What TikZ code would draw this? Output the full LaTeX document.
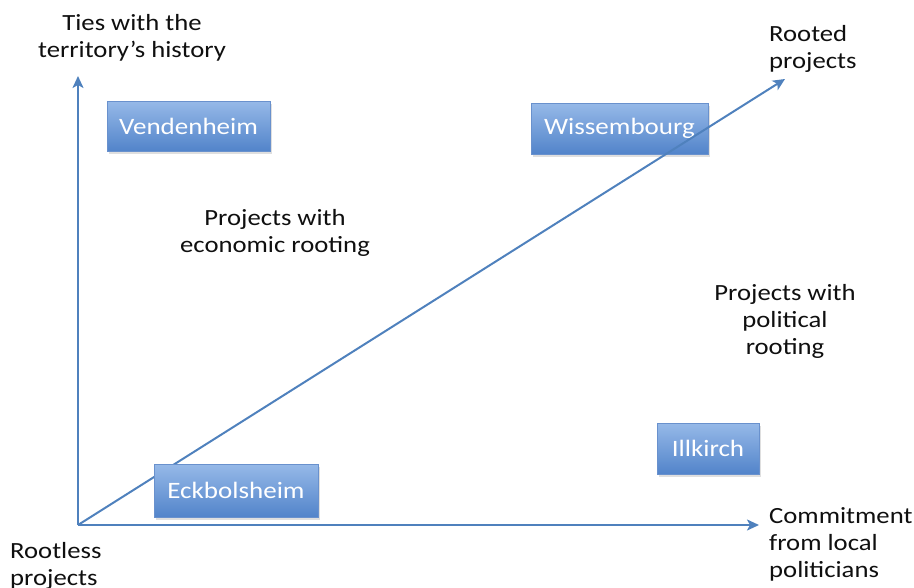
\documentclass[tikz,border=0pt]{standalone}
\usepackage{fontspec}
\setmainfont{Carlito}[FakeStretch=1.15]
\usetikzlibrary{arrows.meta,shadows}
\definecolor{axisblue}{RGB}{79,129,189}
\definecolor{boxtop}{RGB}{150,185,232}
\definecolor{boxbot}{RGB}{82,132,202}
\definecolor{boxedge}{RGB}{105,145,205}
\definecolor{labeltext}{RGB}{15,15,15}
\tikzset{
  axisline/.style={draw=axisblue, line width=2.1pt, -{Stealth[length=12pt,width=11pt,inset=3pt]}},
  diagline/.style={draw=axisblue, line width=2pt, -{Stealth[length=12pt,width=11pt,inset=3pt]}},
  townbox/.style={rectangle, draw=boxedge, line width=0.6pt, top color=boxtop, bottom color=boxbot,
    text=white, font=\fontsize{23.5}{27}\selectfont, inner sep=0pt,
    drop shadow={opacity=0.25, shadow xshift=1.5pt, shadow yshift=-2.5pt}},
  lbl/.style={font=\fontsize{23.2}{27}\selectfont, text=labeltext, inner sep=0pt},
}
\begin{document}
\begin{tikzpicture}[x=1pt,y=-1pt]
\useasboundingbox (0,0) rectangle (914,587);
\coordinate (origin) at (78,525);
\coordinate (ytip) at (78,76);
\coordinate (xtip) at (759,525);
\coordinate (dtip) at (785,79);
% boxes
\node[townbox, minimum width=177pt, minimum height=51pt] (wiss) at (619.5,128.5) {Wissembourg};
\draw[axisline] (origin) -- (ytip);
\draw[axisline] (origin) -- (xtip);
\draw[diagline] (origin) -- (dtip);
\node[townbox, minimum width=163pt, minimum height=50pt] (vend) at (188.5,126) {Vendenheim};
\node[townbox, minimum width=164pt, minimum height=53pt] (eck) at (236,490.5) {Eckbolsheim};
\node[townbox, minimum width=102pt, minimum height=51pt] (ill) at (708,448.5) {Illkirch};
% labels
\node[lbl, align=center, anchor=north] (ties) at (132,14) {Ties with the\\territory’s history};
\node[lbl, align=left, anchor=north west] (rooted) at (769,25) {Rooted\\projects};
\node[lbl, align=center, anchor=north] (econ) at (275,209) {Projects with\\economic rooting};
\node[lbl, align=center, anchor=north] (pol) at (785,284) {Projects with\\political\\rooting};
\node[lbl, align=left, anchor=north west] (rootless) at (10,542) {Rootless\\projects};
\node[lbl, align=left, anchor=north west] (commit) at (769,507) {Commitment\\from local\\politicians};
\end{tikzpicture}
\end{document}
